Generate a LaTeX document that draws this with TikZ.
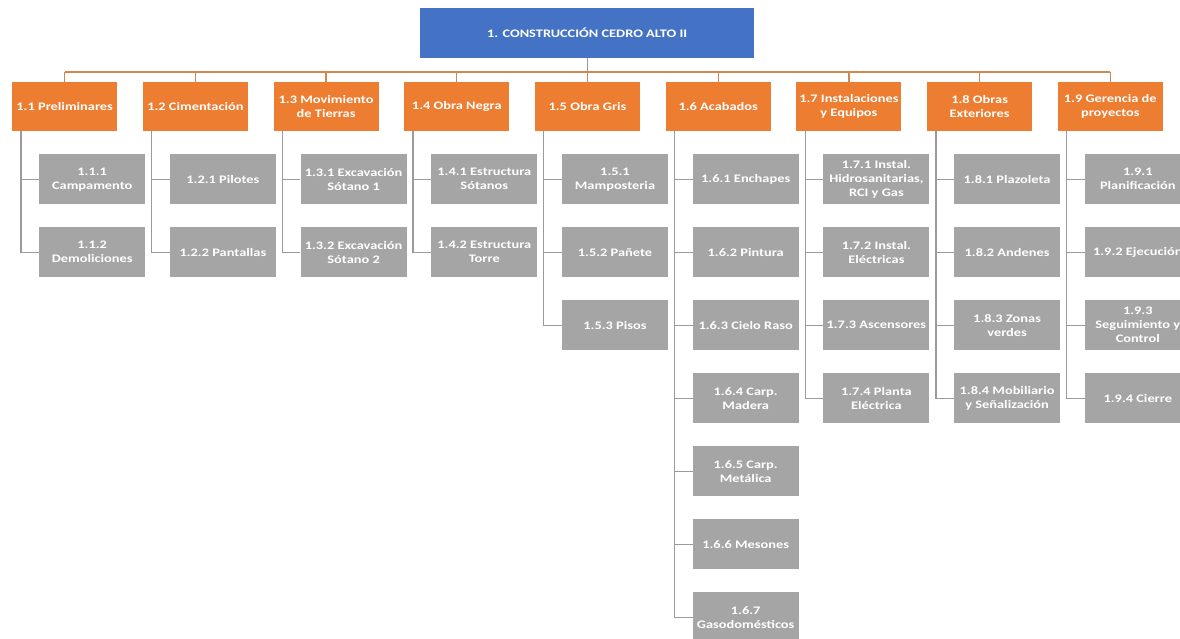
\documentclass[tikz,border=0pt]{standalone}
\usepackage{fontspec}
\setmainfont{Carlito}[FakeStretch=1.25]
\definecolor{rootblue}{HTML}{4472C4}
\definecolor{phaseorange}{HTML}{ED7D31}
\definecolor{taskgrey}{HTML}{A5A5A5}
\definecolor{busline}{HTML}{D0884F}
\definecolor{treeline}{HTML}{9B9B9B}

\begin{document}
\begin{tikzpicture}[x=1pt,y=-1pt,
  box/.style={anchor=north west, inner sep=0pt, align=center, text=white,
    font=\bfseries\fontsize{11.5}{14}\selectfont},
  rootbox/.style={box, fill=rootblue, minimum width=334pt, minimum height=50pt},
  phase/.style={box, fill=phaseorange, minimum width=105pt, minimum height=49pt},
  task/.style={box, fill=taskgrey, minimum width=106pt, minimum height=50pt},
  bus/.style={draw=busline, line width=1.3pt},
  link/.style={draw=treeline, line width=1.3pt}]

\path[use as bounding box] (0,0) rectangle (1180,639);
\clip (0,0) rectangle (1180,639);
\fill[white] (0,0) rectangle (1180,639);

% root of the breakdown
\node[rootbox] (root) at (420,8) {1. CONSTRUCCIÓN CEDRO ALTO II};

% first level: phases
\foreach \i/\t in {
  1/{1.1 Preliminares},
  2/{1.2 Cimentación},
  3/{1.3 Movimiento\\de Tierras},
  4/{1.4 Obra Negra},
  5/{1.5 Obra Gris},
  6/{1.6 Acabados},
  7/{1.7 Instalaciones\\y Equipos},
  8/{1.8 Obras\\Exteriores},
  9/{1.9 Gerencia de\\proyectos}}
  \node[phase] (p\i) at ({12+130.7*(\i-1)},82) {\t};

% bus from the root to every phase
\draw[link] (root.south) -- ([yshift=10pt]p5.north -| root.south);
\draw[bus] ([yshift=10pt]p1.north) -- ([yshift=10pt]p9.north);
\foreach \i in {1,...,9}
  \draw[bus] ([yshift=10pt]p\i.north) -- (p\i.north);

% second level: work packages, each hung from its phase
\foreach \i/\k/\t in {
  1/1/{1.1.1\\Campamento},
  1/2/{1.1.2\\Demoliciones},
  2/1/{1.2.1 Pilotes},
  2/2/{1.2.2 Pantallas},
  3/1/{1.3.1 Excavación\\Sótano 1},
  3/2/{1.3.2 Excavación\\Sótano 2},
  4/1/{1.4.1 Estructura\\Sótanos},
  4/2/{1.4.2 Estructura\\Torre},
  5/1/{1.5.1\\Mamposteria},
  5/2/{1.5.2 Pañete},
  5/3/{1.5.3 Pisos},
  6/1/{1.6.1 Enchapes},
  6/2/{1.6.2 Pintura},
  6/3/{1.6.3 Cielo Raso},
  6/4/{1.6.4 Carp.\\Madera},
  6/5/{1.6.5 Carp.\\Metálica},
  6/6/{1.6.6 Mesones},
  6/7/{1.6.7\\Gasodomésticos},
  7/1/{1.7.1 Instal.\\Hidrosanitarias,\\RCI y Gas},
  7/2/{1.7.2 Instal.\\Eléctricas},
  7/3/{1.7.3 Ascensores},
  7/4/{1.7.4 Planta\\Eléctrica},
  8/1/{1.8.1 Plazoleta},
  8/2/{1.8.2 Andenes},
  8/3/{1.8.3 Zonas\\verdes},
  8/4/{1.8.4 Mobiliario\\y Señalización},
  9/1/{1.9.1\\Planificación},
  9/2/{1.9.2 Ejecución},
  9/3/{1.9.3\\Seguimiento y\\Control},
  9/4/{1.9.4 Cierre}}
{
  \node[task] (c\i-\k) at ({39+130.7*(\i-1)},{154+73*(\k-1)}) {\t};
  \draw[link] ([xshift=9pt]p\i.south west) |- (c\i-\k.west);
}
\end{tikzpicture}
\end{document}
